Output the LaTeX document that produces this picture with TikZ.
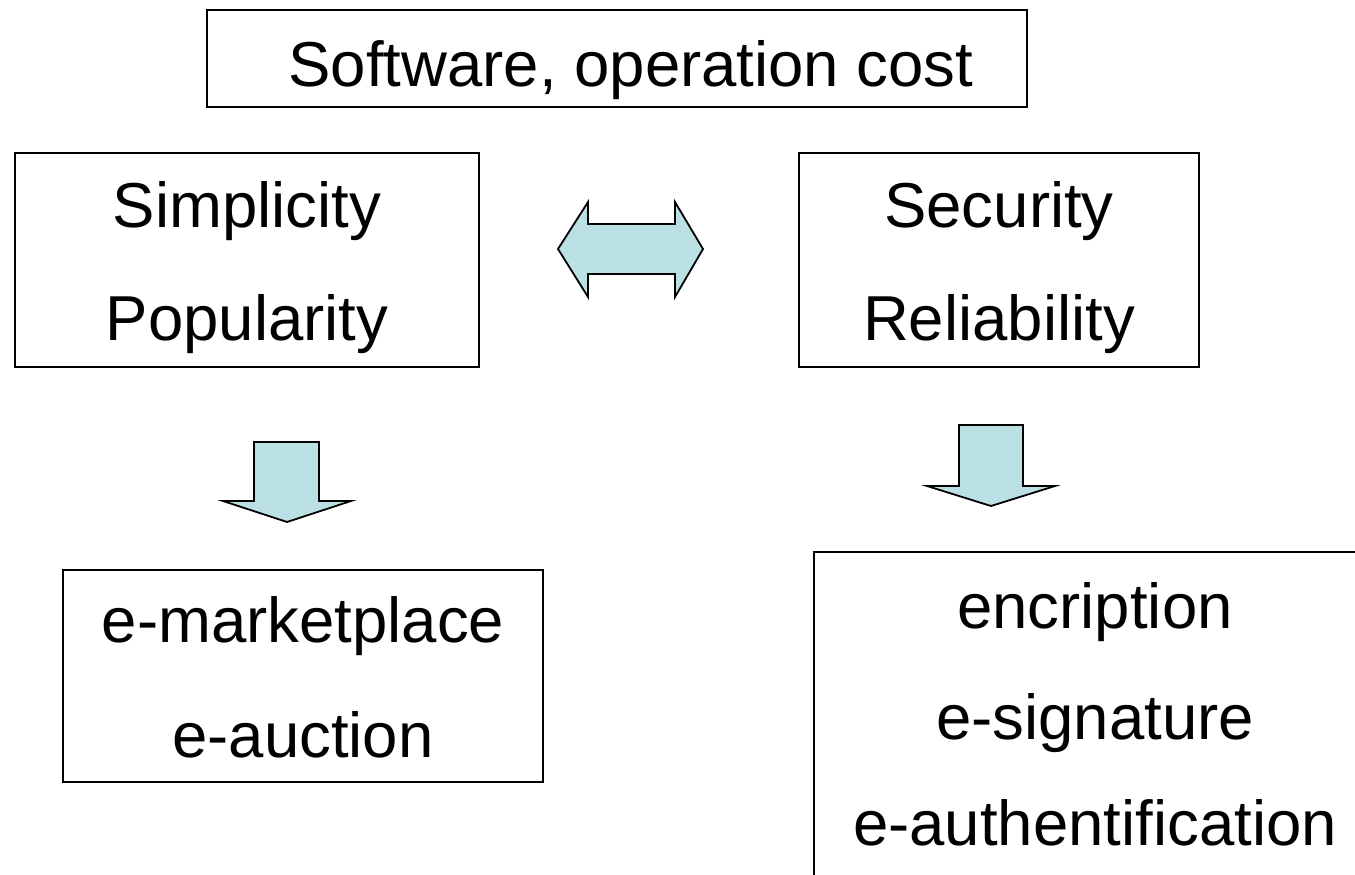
\documentclass[tikz,border=0pt]{standalone}
\usepackage{fontspec}
\setmainfont{Liberation Sans}
\definecolor{arrowfill}{HTML}{BBE0E3}
\begin{document}
\begin{tikzpicture}[x=1pt,y=-1pt,
  box/.style={draw=black,line width=1.3pt,fill=white,inner sep=0pt},
  lbl/.style={anchor=base,inner sep=0pt,font=\fontsize{63.5}{76}\selectfont},
  fatarrow/.style={draw=black,line width=1.8pt,fill=arrowfill,line join=miter}]
\useasboundingbox (0,0) rectangle (1355,875);
\clip (0,0) rectangle (1355,875);
% boxes
\node[box,minimum width=820pt,minimum height=97pt] (top) at (617,58.5) {};
\node[box,minimum width=464pt,minimum height=214pt] (left) at (247,260) {};
\node[box,minimum width=400pt,minimum height=214pt] (right) at (999,260) {};
\node[box,minimum width=480pt,minimum height=212pt] (bl) at (303,676) {};
\node[box,minimum width=560pt,minimum height=340pt] (br) at (1094,722) {};
% texts
\node[lbl] (t0) at (631,86) {Software, operation cost};
\node[lbl] (t1) at (247,227) {Simplicity};
\node[lbl] (t2) at (247,340) {Popularity};
\node[lbl] (t3) at (999,227) {Security};
\node[lbl] (t4) at (999,340) {Reliability};
\node[lbl] (t5) at (303,642) {e-marketplace};
\node[lbl] (t6) at (303,757) {e-auction};
\node[lbl] (t7) at (1095,628) {encription};
\node[lbl] (t8) at (1095,739) {e-signature};
\node[lbl] (t9) at (1095,845) {e-authentification};
% double arrow
\draw[fatarrow] (558,249) -- (588,202) -- (588,224) -- (675,224) -- (675,202)
  -- (703,249) -- (675,297) -- (675,274) -- (588,274) -- (588,297) -- cycle;
% left down arrow
\draw[fatarrow] (254,442) -- (319,442) -- (319,501) -- (351,501) -- (287,522)
  -- (223,501) -- (254,501) -- cycle;
% right down arrow
\draw[fatarrow] (959,425) -- (1023,425) -- (1023,486) -- (1055,486) -- (991,506)
  -- (927,486) -- (959,486) -- cycle;
\end{tikzpicture}
\end{document}
